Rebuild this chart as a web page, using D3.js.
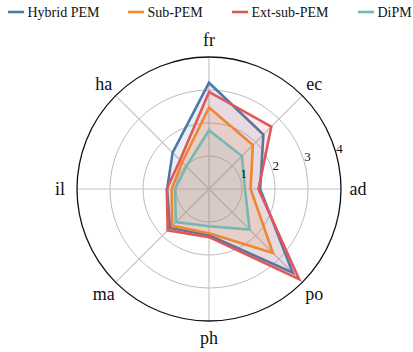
<!DOCTYPE html>
<html>
<head>
<meta charset="utf-8">
<script src="https://cdn.jsdelivr.net/npm/d3@7"></script>
<style>
  html, body { margin: 0; padding: 0; background: #fff; }
  svg { display: block; }
  svg text { font-family: "Liberation Serif", Tinos, "Times New Roman", Times, serif; }
</style>
</head>
<body>
<svg id="chart" width="413" height="352"></svg>
<script>
// Radar axes, clockwise from the top
const axes = ["fr", "ec", "ad", "po", "ph", "ma", "il", "ha"];
const seriesNames = ["Hybrid PEM", "Sub-PEM", "Ext-sub-PEM", "DiPM"];
const hybridPEM = [3.22, 2.33, 1.55, 3.59, 1.40, 1.67, 1.27, 1.56];
const subPEM    = [2.47, 1.88, 1.26, 2.74, 1.34, 1.58, 1.13, 1.15];
const extSubPEM = [2.94, 2.67, 1.50, 3.86, 1.46, 1.77, 1.28, 1.24];
const diPM      = [1.78, 1.41, 1.09, 1.74, 1.13, 1.42, 1.03, 0.97];
const radialTicks = [1, 2, 3, 4];
const colors = ["#4e79a7", "#f28e2b", "#e15759", "#76b7b2"];

const seriesValues = [hybridPEM, subPEM, extSubPEM, diPM];
const FONT = "Liberation Serif, Tinos, Times New Roman, serif";

const svg = d3.select("#chart");
const cx = 209, cy = 189, R = 132;

const r = d3.scaleLinear().domain([0, 4]).range([0, R]);
const angle = d3.scalePoint().domain(axes).range([0, 2 * Math.PI * (axes.length - 1) / axes.length]);

const g = svg.append("g").attr("transform", `translate(${cx},${cy})`);

function pt(theta, rad) {
  return [rad * Math.sin(theta), -rad * Math.cos(theta)];
}

// inner grid rings
g.selectAll("circle.ring")
  .data(radialTicks.slice(0, -1))
  .join("circle")
  .attr("class", "ring")
  .attr("r", d => r(d))
  .attr("fill", "none")
  .attr("stroke", "#bdbdbd")
  .attr("stroke-width", 1);

// spokes
g.selectAll("line.spoke")
  .data(axes)
  .join("line")
  .attr("class", "spoke")
  .attr("x1", 0).attr("y1", 0)
  .attr("x2", d => pt(angle(d), R)[0])
  .attr("y2", d => pt(angle(d), R)[1])
  .attr("stroke", "#c4c4c4")
  .attr("stroke-width", 1.2);

// series polygons
const line = d3.lineRadial()
  .angle((d, i) => angle(axes[i]))
  .radius(d => r(d))
  .curve(d3.curveLinearClosed);

seriesValues.forEach((vals, i) => {
  g.append("path")
    .datum(vals)
    .attr("d", line)
    .attr("fill", colors[i])
    .attr("fill-opacity", 0.13)
    .attr("stroke", colors[i])
    .attr("stroke-width", 2.6)
    .attr("stroke-linejoin", "miter");
});

// outer frame
g.append("circle")
  .attr("r", r(4))
  .attr("fill", "none")
  .attr("stroke", "#111")
  .attr("stroke-width", 1.3);

// radial tick labels
g.selectAll("text.rtick")
  .data(radialTicks)
  .join("text")
  .attr("class", "rtick")
  .attr("x", d => pt(Math.PI * 75 / 180, r(d) + 3)[0])
  .attr("y", d => pt(Math.PI * 75 / 180, r(d) + 3)[1] - 6)
  .attr("text-anchor", "middle")
  .attr("dominant-baseline", "central")
  .attr("font-family", FONT)
  .attr("font-size", 13)
  .attr("fill", "#111")
  .text(d => d);

// axis labels
g.selectAll("text.axis")
  .data(axes)
  .join("text")
  .attr("class", "axis")
  .attr("x", d => pt(angle(d), R + 17)[0])
  .attr("y", d => pt(angle(d), R + 17)[1])
  .attr("text-anchor", "middle")
  .attr("dominant-baseline", "central")
  .attr("font-family", FONT)
  .attr("font-size", 18)
  .attr("fill", "#111")
  .text(d => d);

// legend
const legendX = [8, 128, 232, 358];
const legend = svg.append("g").attr("transform", "translate(0,12)");
seriesNames.forEach((name, i) => {
  const item = legend.append("g").attr("transform", `translate(${legendX[i]},0)`);
  item.append("line")
    .attr("x1", 0).attr("x2", 16)
    .attr("y1", 0).attr("y2", 0)
    .attr("stroke", colors[i])
    .attr("stroke-width", 2.6);
  item.append("text")
    .attr("x", 19.5)
    .attr("y", 0)
    .attr("dominant-baseline", "central")
    .attr("font-family", FONT)
    .attr("font-size", 14)
    .attr("fill", "#111")
    .text(name);
});
</script>
</body>
</html>
